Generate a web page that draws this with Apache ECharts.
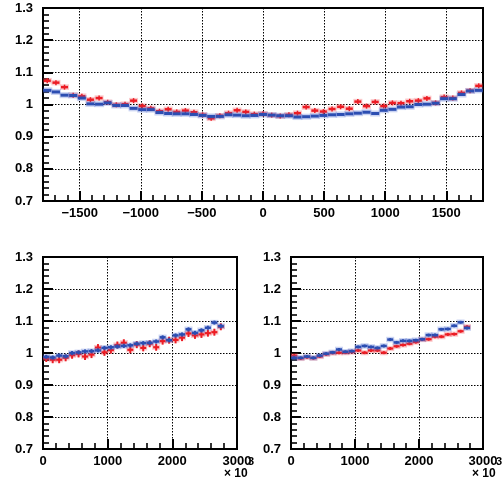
<!DOCTYPE html>
<html>
<head>
<meta charset="utf-8">
<script src="https://cdn.jsdelivr.net/npm/echarts@6/dist/echarts.min.js"></script>
<style>
  html, body { margin: 0; padding: 0; background: #fff; }
  #chart { width: 502px; height: 485px; }
</style>
</head>
<body>
<div id="chart"></div>
<script>
// ---- top panel: ratio versus position (51 bins from -1800 to 1800) ----
const etaCenters = [
  -1765, -1694, -1624, -1553, -1482, -1412, -1341, -1271, -1200, -1129,
  -1059, -988, -918, -847, -776, -706, -635, -565, -494, -424,
  -353, -282, -212, -141, -71, 0, 71, 141, 212, 282,
  353, 424, 494, 565, 635, 706, 776, 847, 918, 988,
  1059, 1129, 1200, 1271, 1341, 1412, 1482, 1553, 1624, 1694, 1765
];
const etaBinWidth = 70.6;
const etaRed = [
  1.074, 1.068, 1.054, 1.029, 1.026, 1.015, 1.020, 1.007, 0.999, 1.001,
  1.012, 0.995, 0.988, 0.979, 0.985, 0.977, 0.981, 0.976, 0.968, 0.957,
  0.965, 0.973, 0.982, 0.977, 0.970, 0.971, 0.967, 0.964, 0.968, 0.973,
  0.992, 0.981, 0.978, 0.986, 0.993, 0.987, 1.009, 0.995, 1.008, 0.995,
  1.005, 1.004, 1.010, 1.012, 1.019, 1.005, 1.023, 1.020, 1.036, 1.043, 1.058
];
const etaBlue = [
  1.044, 1.039, 1.029, 1.028, 1.020, 1.002, 1.001, 1.005, 0.997, 0.997,
  0.988, 0.984, 0.984, 0.975, 0.972, 0.971, 0.971, 0.969, 0.966, 0.963,
  0.963, 0.968, 0.967, 0.965, 0.966, 0.969, 0.967, 0.965, 0.965, 0.961,
  0.962, 0.964, 0.966, 0.968, 0.969, 0.971, 0.973, 0.976, 0.972, 0.982,
  0.985, 0.992, 0.993, 1.000, 1.001, 1.004, 1.018, 1.018, 1.031, 1.042, 1.044
];

// ---- bottom panels: ratio versus energy (x 10^3), 28 bins of 100 ----
const ptCenters = [
  50, 150, 250, 350, 450, 550, 650, 750, 850, 950,
  1050, 1150, 1250, 1350, 1450, 1550, 1650, 1750, 1850, 1950,
  2050, 2150, 2250, 2350, 2450, 2550, 2650, 2750
];
const leftRed = [
  0.983, 0.979, 0.979, 0.985, 0.993, 0.997, 0.989, 0.995, 1.017, 1.002,
  1.009, 1.025, 1.032, 1.010, 1.026, 1.016, 1.029, 1.018, 1.037, 1.040,
  1.041, 1.048, 1.061, 1.055, 1.058, 1.062, 1.065, 1.082
];
const leftBlue = [
  0.988, 0.986, 0.992, 0.990, 1.000, 1.002, 1.005, 1.006, 1.008, 1.016,
  1.018, 1.020, 1.022, 1.024, 1.029, 1.031, 1.032, 1.036, 1.049, 1.040,
  1.055, 1.058, 1.074, 1.063, 1.071, 1.079, 1.095, 1.084
];
const rightRed = [
  0.992, 0.983, 0.987, 0.984, 0.989, 0.996, 1.000, 1.001, 1.001, 1.003,
  1.008, 1.001, 1.008, 1.008, 1.001, 1.014, 1.021, 1.025, 1.029, 1.034,
  1.042, 1.043, 1.051, 1.051, 1.058, 1.059, 1.068, 1.082
];
const rightBlue = [
  0.985, 0.985, 0.989, 0.985, 0.992, 0.998, 1.002, 1.011, 1.004, 1.006,
  1.019, 1.022, 1.019, 1.016, 1.022, 1.042, 1.033, 1.038, 1.038, 1.040,
  1.043, 1.056, 1.056, 1.074, 1.075, 1.085, 1.096, 1.078
];

const RED = '#ec1c24';
const RED_HALO = 'rgba(240,60,70,0.28)';
const BLUE = '#2c4eb2';
const BLUE_HALO = 'rgba(70,100,210,0.28)';
const FONT = '"Liberation Sans", Arial, Helvetica, sans-serif';

function pairs(xs, ys) { return xs.map((x, i) => [x, ys[i]]); }

// error-bar style marker: horizontal bar (half-width in px or whole bin) + vertical bar
function errorMarker(color, halo, opt) {
  return function (params, api) {
    const x = api.value(0), y = api.value(1);
    const c = api.coord([x, y]);
    let x0, x1;
    if (opt.fullBin) {
      x0 = api.coord([x - opt.binWidth / 2, y])[0] + 0.3;
      x1 = api.coord([x + opt.binWidth / 2, y])[0] - 0.3;
    } else {
      x0 = c[0] - opt.hw; x1 = c[0] + opt.hw;
    }
    const kids = [
      { type: 'line', shape: { x1: x0 - 1, y1: c[1], x2: x1 + 1, y2: c[1] },
        style: { stroke: halo, lineWidth: opt.lw + 3 } },
      { type: 'line', shape: { x1: x0, y1: c[1], x2: x1, y2: c[1] },
        style: { stroke: color, lineWidth: opt.lw } }
    ];
    if (opt.hh > 0) {
      kids.push({ type: 'line', shape: { x1: c[0], y1: c[1] - opt.hh, x2: c[0], y2: c[1] + opt.hh },
        style: { stroke: color, lineWidth: opt.vlw } });
    }
    return { type: 'group', children: kids };
  };
}

// fresh style objects for every axis
const labelStyle = () => ({ color: '#000', fontFamily: FONT, fontWeight: 'bold', fontSize: 13 });
const gridLine = () => ({ show: true, lineStyle: { color: '#000', width: 1, type: [1.5, 1.5] } });
const frameLine = () => ({ show: true, onZero: false, lineStyle: { color: '#000', width: 2 } });
const majorTick = () => ({ show: true, inside: true, length: 10, lineStyle: { color: '#000', width: 2 } });
const minorTick = () => ({ show: true, splitNumber: 5, length: 6, lineStyle: { color: '#000', width: 1.6 } });

function yAxisFor(gi) {
  return {
    type: 'value', gridIndex: gi, min: 0.7, max: 1.3, interval: 0.1, position: 'left',
    axisLine: frameLine(), axisTick: majorTick(), minorTick: minorTick(),
    axisLabel: Object.assign({ margin: 10, formatter: v => String(+v.toFixed(1)) }, labelStyle()),
    splitLine: gridLine()
  };
}

function fmtX(v) { return v < 0 ? '\u2212' + Math.abs(v) : String(v); }

function energyAxis(gi) {
  return {
    type: 'value', gridIndex: gi, min: 0, max: 3000, interval: 1000, position: 'bottom',
    axisLine: frameLine(), axisTick: majorTick(), minorTick: minorTick(),
    axisLabel: Object.assign({ margin: 6, formatter: fmtX }, labelStyle()),
    splitLine: gridLine()
  };
}

const option = {
  animation: false,
  backgroundColor: '#fff',
  grid: [
    { left: 43, top: 8, width: 440, height: 193, show: true, borderColor: '#000', borderWidth: 2 },
    { left: 43, top: 257, width: 194, height: 192, show: true, borderColor: '#000', borderWidth: 2 },
    { left: 291, top: 257, width: 192, height: 192, show: true, borderColor: '#000', borderWidth: 2 }
  ],
  xAxis: [
    { // top panel: labelled ticks every 500
      type: 'value', gridIndex: 0, min: -1800, max: 1800, splitNumber: 7,
      minInterval: 500, maxInterval: 500, position: 'bottom',
      axisLine: frameLine(), axisTick: majorTick(),
      axisLabel: Object.assign({ margin: 6, showMinLabel: false, showMaxLabel: false, formatter: fmtX }, labelStyle()),
      splitLine: gridLine()
    },
    { // top panel: small ticks every 100
      type: 'value', gridIndex: 0, min: -1800, max: 1800, interval: 100, position: 'bottom',
      axisLine: { show: false, onZero: false },
      axisTick: { show: true, inside: true, length: 6, lineStyle: { color: '#000', width: 1.6 } },
      axisLabel: { show: false }, splitLine: { show: false }
    },
    energyAxis(1),
    energyAxis(2)
  ],
  yAxis: [yAxisFor(0), yAxisFor(1), yAxisFor(2)],
  series: [
    { type: 'custom', xAxisIndex: 0, yAxisIndex: 0, clip: true,
      renderItem: errorMarker(RED, RED_HALO, { hw: 3.5, hh: 2.5, lw: 2.5, vlw: 1.5 }),
      data: pairs(etaCenters, etaRed) },
    { type: 'custom', xAxisIndex: 0, yAxisIndex: 0, clip: true,
      renderItem: errorMarker(BLUE, BLUE_HALO, { fullBin: true, binWidth: etaBinWidth, hh: 0, lw: 3 }),
      data: pairs(etaCenters, etaBlue) },
    { type: 'custom', xAxisIndex: 2, yAxisIndex: 1, clip: true,
      renderItem: errorMarker(RED, RED_HALO, { hw: 3, hh: 3.5, lw: 2.2, vlw: 2 }),
      data: pairs(ptCenters, leftRed) },
    { type: 'custom', xAxisIndex: 2, yAxisIndex: 1, clip: true,
      renderItem: errorMarker(BLUE, BLUE_HALO, { hw: 3, hh: 2, lw: 2.5, vlw: 2 }),
      data: pairs(ptCenters, leftBlue) },
    { type: 'custom', xAxisIndex: 3, yAxisIndex: 2, clip: true,
      renderItem: errorMarker(RED, RED_HALO, { hw: 3, hh: 1.5, lw: 2.2, vlw: 2 }),
      data: pairs(ptCenters, rightRed) },
    { type: 'custom', xAxisIndex: 3, yAxisIndex: 2, clip: true,
      renderItem: errorMarker(BLUE, BLUE_HALO, { hw: 3, hh: 1.5, lw: 2.5, vlw: 2 }),
      data: pairs(ptCenters, rightBlue) }
  ],
  graphic: [
    { type: 'text', left: 224, top: 468, style: { text: '\u00d7 10', fill: '#000', font: 'bold 12px ' + FONT } },
    { type: 'text', left: 248, top: 456, style: { text: '3', fill: '#000', font: 'bold 11px ' + FONT } },
    { type: 'text', left: 472, top: 468, style: { text: '\u00d7 10', fill: '#000', font: 'bold 12px ' + FONT } },
    { type: 'text', left: 496, top: 456, style: { text: '3', fill: '#000', font: 'bold 11px ' + FONT } }
  ]
};

const chart = echarts.init(document.getElementById('chart'), null, { renderer: 'canvas' });
chart.setOption(option);
</script>
</body>
</html>
